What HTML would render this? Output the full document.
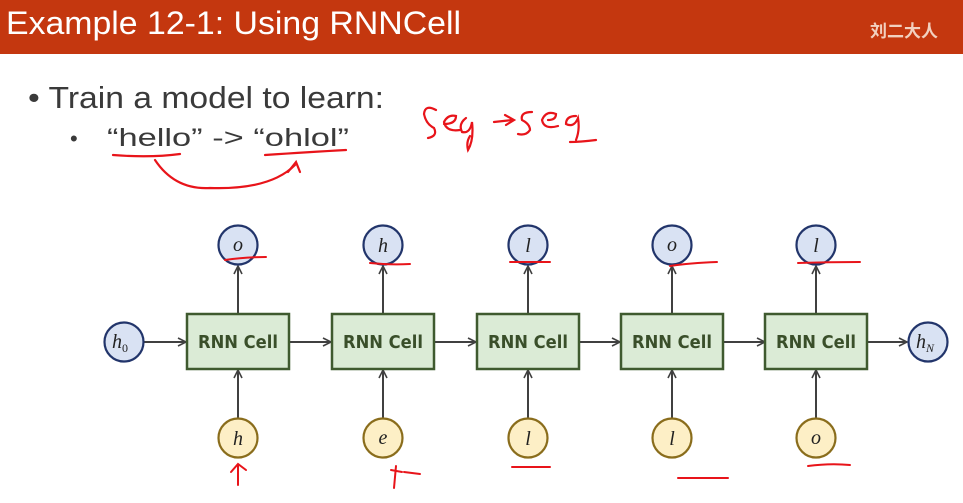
<!DOCTYPE html>
<html><head><meta charset="utf-8"><style>
html,body{margin:0;padding:0;background:#fff;}
svg{display:block;}
</style></head><body>
<svg width="963" height="503" viewBox="0 0 963 503" xmlns="http://www.w3.org/2000/svg">
<defs>
<marker id="ar" markerWidth="10" markerHeight="10" refX="9" refY="5" orient="auto" markerUnits="userSpaceOnUse">
<path d="M1,1 L9,5 L1,9" fill="none" stroke="#404040" stroke-width="1.6"/>
</marker>
</defs>
<rect x="0" y="0" width="963" height="54" fill="#c4370f"/>
<text x="6" y="34" font-family="Liberation Sans, sans-serif" font-size="32" fill="#fff" textLength="455" lengthAdjust="spacingAndGlyphs">Example 12-1: Using RNNCell</text>
<text x="870" y="37" font-family="Liberation Sans, Noto Sans CJK SC, sans-serif" font-size="17" font-weight="bold" fill="#f2d0c0">刘二大人</text>

<text x="28" y="108" font-family="Liberation Sans, sans-serif" font-size="31" fill="#3a3a3a" textLength="356" lengthAdjust="spacingAndGlyphs">• Train a model to learn:</text>
<text x="70" y="146" font-family="Liberation Sans, sans-serif" font-size="22" fill="#3a3a3a">•</text>
<text x="107" y="146" font-family="Liberation Sans, sans-serif" font-size="25" fill="#3a3a3a" textLength="242" lengthAdjust="spacingAndGlyphs">“hello”  -&gt;   “ohlol”</text>

<!-- red handwriting -->
<g fill="none" stroke="#e8141a" stroke-width="2.2" stroke-linecap="round">
<path d="M113,155 Q150,158 180,154"/>
<path d="M265,155 Q310,152 346,150"/>
<path d="M155,160 Q175,190 210,188 Q270,190 295,165"/>
<path d="M288,172 L296,162 L300,172"/>
<path d="M436,110 Q425,104 424,114 Q426,124 434,128 Q438,136 428,138"/>
<path d="M444,124 Q456,124 456,116 Q448,114 444,122 Q446,132 460,130"/>
<path d="M466,118 Q458,124 462,132 Q470,134 472,122 Q474,140 468,150 Q466,142 470,136"/>
<path d="M494,122 L512,120 M505,115 L514,120 L506,125"/>
<path d="M532,112 Q520,112 522,120 Q530,124 530,130 Q526,136 518,134"/>
<path d="M548,120 Q556,120 556,114 Q546,110 542,120 Q544,130 558,126"/>
<path d="M576,116 Q566,116 566,124 Q574,128 578,118 Q580,130 576,140 M570,142 Q580,142 596,140"/>
</g>

<!-- diagram lines -->
<g stroke="#404040" stroke-width="2" fill="none">
<line x1="144" y1="342" x2="186" y2="342" marker-end="url(#ar)"/>
<line x1="289" y1="342" x2="331" y2="342" marker-end="url(#ar)"/>
<line x1="434" y1="342" x2="476" y2="342" marker-end="url(#ar)"/>
<line x1="579" y1="342" x2="620" y2="342" marker-end="url(#ar)"/>
<line x1="723" y1="342" x2="765" y2="342" marker-end="url(#ar)"/>
<line x1="868" y1="342" x2="907" y2="342" marker-end="url(#ar)"/>
</g>
<g stroke="#404040" stroke-width="2" fill="none">
<line x1="238" y1="314" x2="238" y2="266" marker-end="url(#ar)"/>
<line x1="383" y1="314" x2="383" y2="266" marker-end="url(#ar)"/>
<line x1="528" y1="314" x2="528" y2="266" marker-end="url(#ar)"/>
<line x1="672" y1="314" x2="672" y2="266" marker-end="url(#ar)"/>
<line x1="816" y1="314" x2="816" y2="266" marker-end="url(#ar)"/>
<line x1="238" y1="418" x2="238" y2="370" marker-end="url(#ar)"/>
<line x1="383" y1="418" x2="383" y2="370" marker-end="url(#ar)"/>
<line x1="528" y1="418" x2="528" y2="370" marker-end="url(#ar)"/>
<line x1="672" y1="418" x2="672" y2="370" marker-end="url(#ar)"/>
<line x1="816" y1="418" x2="816" y2="370" marker-end="url(#ar)"/>
</g>

<g fill="#dbebd6" stroke="#3f5a2f" stroke-width="2.5">
<rect x="187" y="314" width="102" height="55"/>
<rect x="332" y="314" width="102" height="55"/>
<rect x="477" y="314" width="102" height="55"/>
<rect x="621" y="314" width="102" height="55"/>
<rect x="765" y="314" width="102" height="55"/>
</g>
<g font-family="DejaVu Sans, sans-serif" font-weight="bold" font-size="18" fill="#3a4f2a" text-anchor="middle">
<text x="238" y="348" textLength="80" lengthAdjust="spacingAndGlyphs">RNN Cell</text>
<text x="383" y="348" textLength="80" lengthAdjust="spacingAndGlyphs">RNN Cell</text>
<text x="528" y="348" textLength="80" lengthAdjust="spacingAndGlyphs">RNN Cell</text>
<text x="672" y="348" textLength="80" lengthAdjust="spacingAndGlyphs">RNN Cell</text>
<text x="816" y="348" textLength="80" lengthAdjust="spacingAndGlyphs">RNN Cell</text>
</g>

<g fill="#d9e2f3" stroke="#22356b" stroke-width="2.2">
<circle cx="238" cy="245" r="19.5"/>
<circle cx="383" cy="245" r="19.5"/>
<circle cx="528" cy="245" r="19.5"/>
<circle cx="672" cy="245" r="19.5"/>
<circle cx="816" cy="245" r="19.5"/>
<circle cx="124" cy="342" r="19.5"/>
<circle cx="928" cy="342" r="19.5"/>
</g>
<g fill="#fdefc6" stroke="#8a6d1c" stroke-width="2.2">
<circle cx="238" cy="438" r="19.5"/>
<circle cx="383" cy="438" r="19.5"/>
<circle cx="528" cy="438" r="19.5"/>
<circle cx="672" cy="438" r="19.5"/>
<circle cx="816" cy="438" r="19.5"/>
</g>
<g font-family="Liberation Serif, serif" font-style="italic" font-size="20" fill="#222" text-anchor="middle">
<text x="238" y="251">o</text>
<text x="383" y="252">h</text>
<text x="528" y="252">l</text>
<text x="672" y="251">o</text>
<text x="816" y="252">l</text>
<text x="238" y="445">h</text>
<text x="383" y="444">e</text>
<text x="528" y="445">l</text>
<text x="672" y="445">l</text>
<text x="816" y="444">o</text>
<text x="120" y="348">h<tspan font-size="12" dy="4" font-style="normal">0</tspan></text>
<text x="925" y="348">h<tspan font-size="12" dy="4">N</tspan></text>
</g>

<g fill="none" stroke="#e8141a" stroke-width="2" stroke-linecap="round">
<path d="M225,260 Q245,257 266,257"/>
<path d="M370,263 Q390,265 410,264"/>
<path d="M510,262 Q530,262 550,262"/>
<path d="M670,266 Q690,263 717,262"/>
<path d="M798,263 Q830,262 860,262"/>
<path d="M238,485 L238,465 M231,472 L238,464 L246,470"/>
<path d="M394,488 L396,466 M391,470 L402,472 M404,472 L420,474"/>
<path d="M512,467 L550,467"/>
<path d="M678,478 L728,478"/>
<path d="M808,466 Q830,463 850,465"/>
</g>
</svg>
</body></html>
